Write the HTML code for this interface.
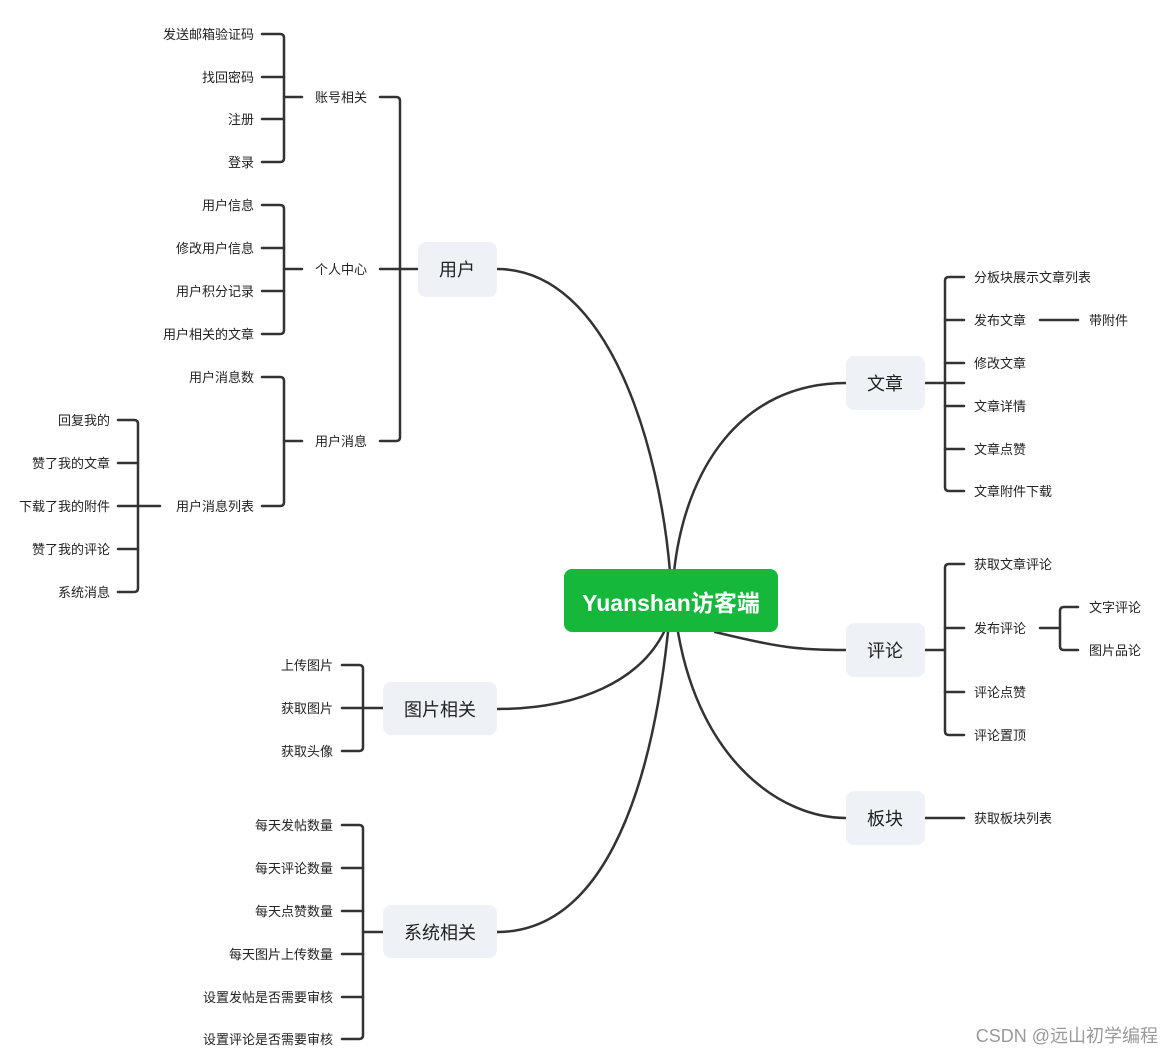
<!DOCTYPE html>
<html><head><meta charset="utf-8"><style>
html,body{margin:0;padding:0;background:#fff;}
svg{display:block}
text{font-family:"Liberation Sans","Noto Sans CJK SC",sans-serif;fill:#222;}
.l{font-size:13px;}
.b{font-size:18px;}
</style></head><body>
<svg width="1173" height="1055" viewBox="0 0 1173 1055" xmlns="http://www.w3.org/2000/svg">
<g fill="none" stroke="#333" stroke-width="2.5" stroke-linecap="round">
<!-- main curves -->
<path d="M497,269 C610,269 660,450 670,572"/>
<path d="M846,383 C740,383 685,470 674,572"/>
<path d="M715,632 C780,648 800,650 846,650"/>
<path d="M678,632 C700,760 780,818 846,818"/>
<path d="M497,709 C580,709 640,680 664,632"/>
<path d="M497,932 C600,932 650,800 668,632"/>
<!-- 用户 brackets -->
<path d="M380,97 H396 Q400,97 400,101 V437 Q400,441 396,441 H380"/><path d="M400,269 H418"/><path d="M380,269 H400"/>
<path d="M262,34 H280 Q284,34 284,38 V158 Q284,162 280,162 H262"/><path d="M262,77 H284 M262,119 H284 M284,97 H302"/>
<path d="M262,205 H280 Q284,205 284,209 V330 Q284,334 280,334 H262"/><path d="M262,248 H284 M262,291 H284 M284,269 H302"/>
<path d="M262,377 H280 Q284,377 284,381 V502 Q284,506 280,506 H262"/><path d="M284,441 H302"/>
<path d="M118,420 H134 Q138,420 138,424 V588 Q138,592 134,592 H118"/><path d="M118,463 H138 M118,506 H160 M118,549 H138"/>
<!-- 图片相关 -->
<path d="M342,665 H359 Q363,665 363,669 V747 Q363,751 359,751 H342"/><path d="M342,708 H383"/>
<!-- 系统相关 -->
<path d="M342,825 H359 Q363,825 363,829 V1035 Q363,1039 359,1039 H342"/><path d="M342,868 H363 M342,911 H363 M342,954 H363 M342,997 H363 M363,932 H383"/>
<!-- 文章 -->
<path d="M964,277 H949 Q945,277 945,281 V487 Q945,491 949,491 H964"/><path d="M925,383 H964 M945,320 H964 M945,363 H964 M945,406 H964 M945,449 H964"/><path d="M1040,320 H1078"/>
<!-- 评论 -->
<path d="M964,564 H949 Q945,564 945,568 V731 Q945,735 949,735 H964"/><path d="M925,650 H945 M945,628 H964 M945,692 H964"/>
<path d="M1078,607 H1064 Q1060,607 1060,611 V646 Q1060,650 1064,650 H1078"/><path d="M1040,628 H1060"/>
<!-- 板块 -->
<path d="M925,818 H964"/>
</g>
<!-- boxes -->
<rect x="564" y="569" width="214" height="63" rx="8" fill="#16b83b"/>
<text x="671" y="611" text-anchor="middle" style="font-size:23px;font-weight:bold;fill:#fff">Yuanshan访客端</text>
<g fill="#eef1f5">
<rect x="418" y="242" width="79" height="55" rx="8"/>
<rect x="383" y="682" width="114" height="53" rx="8"/>
<rect x="383" y="905" width="114" height="53" rx="8"/>
<rect x="846" y="356" width="79" height="54" rx="8"/>
<rect x="846" y="623" width="79" height="54" rx="8"/>
<rect x="846" y="791" width="79" height="54" rx="8"/>
</g>
<g class="b" text-anchor="middle">
<text x="457" y="276">用户</text>
<text x="440" y="716">图片相关</text>
<text x="440" y="939">系统相关</text>
<text x="885" y="390">文章</text>
<text x="885" y="657">评论</text>
<text x="885" y="825">板块</text>
</g>
<g class="l" text-anchor="middle">
<text x="341" y="102">账号相关</text>
<text x="341" y="274">个人中心</text>
<text x="341" y="446">用户消息</text>
</g>
<g class="l" text-anchor="end">
<text x="254" y="39">发送邮箱验证码</text>
<text x="254" y="82">找回密码</text>
<text x="254" y="124">注册</text>
<text x="254" y="167">登录</text>
<text x="254" y="210">用户信息</text>
<text x="254" y="253">修改用户信息</text>
<text x="254" y="296">用户积分记录</text>
<text x="254" y="339">用户相关的文章</text>
<text x="254" y="382">用户消息数</text>
<text x="254" y="511">用户消息列表</text>
<text x="110" y="425">回复我的</text>
<text x="110" y="468">赞了我的文章</text>
<text x="110" y="511">下载了我的附件</text>
<text x="110" y="554">赞了我的评论</text>
<text x="110" y="597">系统消息</text>
<text x="333" y="670">上传图片</text>
<text x="333" y="713">获取图片</text>
<text x="333" y="756">获取头像</text>
<text x="333" y="830">每天发帖数量</text>
<text x="333" y="873">每天评论数量</text>
<text x="333" y="916">每天点赞数量</text>
<text x="333" y="959">每天图片上传数量</text>
<text x="333" y="1002">设置发帖是否需要审核</text>
<text x="333" y="1044">设置评论是否需要审核</text>
</g>
<g class="l">
<text x="974" y="282">分板块展示文章列表</text>
<text x="974" y="325">发布文章</text>
<text x="1089" y="325">带附件</text>
<text x="974" y="368">修改文章</text>
<text x="974" y="411">文章详情</text>
<text x="974" y="454">文章点赞</text>
<text x="974" y="496">文章附件下载</text>
<text x="974" y="569">获取文章评论</text>
<text x="974" y="633">发布评论</text>
<text x="1089" y="612">文字评论</text>
<text x="1089" y="655">图片品论</text>
<text x="974" y="697">评论点赞</text>
<text x="974" y="740">评论置顶</text>
<text x="974" y="823">获取板块列表</text>
</g>
<text x="1158" y="1042" text-anchor="end" style="font-size:18px;fill:#999">CSDN @远山初学编程</text>
</svg>
</body></html>
